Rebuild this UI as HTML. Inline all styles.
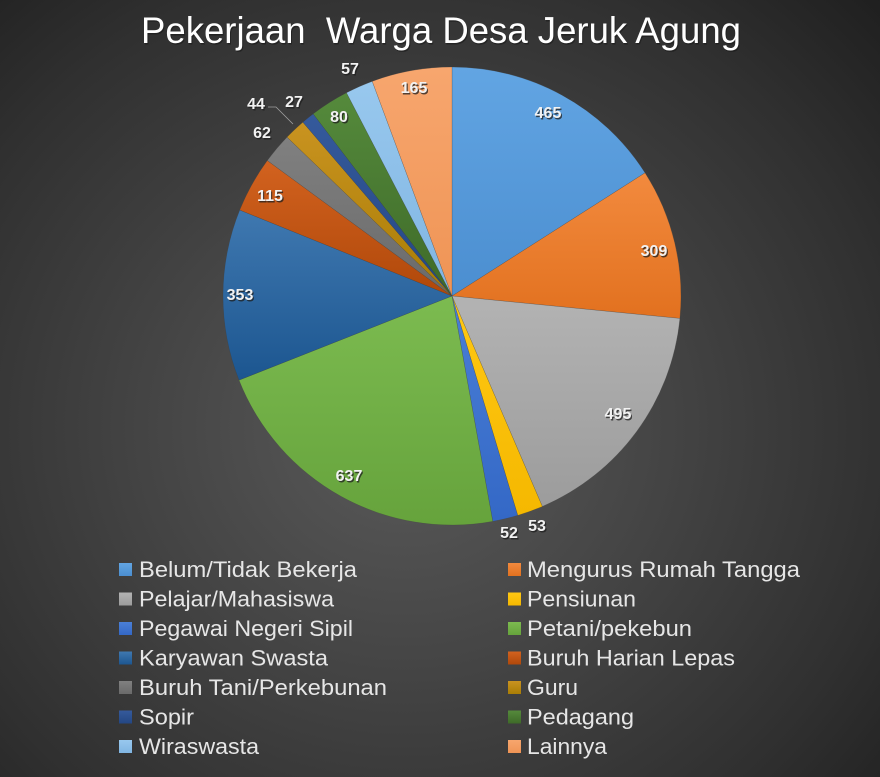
<!DOCTYPE html>
<html><head><meta charset="utf-8"><style>
html,body{margin:0;padding:0;}
body{width:880px;height:777px;overflow:hidden;background:radial-gradient(ellipse 75% 80% at 46% 55%,#5a5a5a 0%,#444 40%,#303030 75%,#1f1f1f 100%);}
svg{display:block;}
.t{font-family:"Liberation Sans",sans-serif;}
.lbl{font-family:"Liberation Sans",sans-serif;font-weight:bold;font-size:16px;text-anchor:middle;}
.lg{font-family:"Liberation Sans",sans-serif;font-size:22px;fill:#e6e6e6;}
</style></head><body>
<svg width="880" height="777" viewBox="0 0 880 777" xmlns="http://www.w3.org/2000/svg">
<defs>
<linearGradient id="g1" x1="0" y1="0" x2="0" y2="1"><stop offset="0" stop-color="#62a5e3"/><stop offset="1" stop-color="#4b8ed0"/></linearGradient>
<linearGradient id="g2" x1="0" y1="0" x2="0" y2="1"><stop offset="0" stop-color="#f28a3e"/><stop offset="1" stop-color="#e2711f"/></linearGradient>
<linearGradient id="g3" x1="0" y1="0" x2="0" y2="1"><stop offset="0" stop-color="#b3b3b3"/><stop offset="1" stop-color="#9c9c9c"/></linearGradient>
<linearGradient id="g4" x1="0" y1="0" x2="0" y2="1"><stop offset="0" stop-color="#ffc814"/><stop offset="1" stop-color="#f5b800"/></linearGradient>
<linearGradient id="g5" x1="0" y1="0" x2="0" y2="1"><stop offset="0" stop-color="#4a7fd6"/><stop offset="1" stop-color="#3468c6"/></linearGradient>
<linearGradient id="g6" x1="0" y1="0" x2="0" y2="1"><stop offset="0" stop-color="#7cbb50"/><stop offset="1" stop-color="#66a33c"/></linearGradient>
<linearGradient id="g7" x1="0" y1="0" x2="0" y2="1"><stop offset="0" stop-color="#3f78b0"/><stop offset="1" stop-color="#1c5690"/></linearGradient>
<linearGradient id="g8" x1="0" y1="0" x2="0" y2="1"><stop offset="0" stop-color="#d2621f"/><stop offset="1" stop-color="#b0480a"/></linearGradient>
<linearGradient id="g9" x1="0" y1="0" x2="0" y2="1"><stop offset="0" stop-color="#808080"/><stop offset="1" stop-color="#6a6a6a"/></linearGradient>
<linearGradient id="g10" x1="0" y1="0" x2="0" y2="1"><stop offset="0" stop-color="#c99320"/><stop offset="1" stop-color="#a97d05"/></linearGradient>
<linearGradient id="g11" x1="0" y1="0" x2="0" y2="1"><stop offset="0" stop-color="#355a9c"/><stop offset="1" stop-color="#244783"/></linearGradient>
<linearGradient id="g12" x1="0" y1="0" x2="0" y2="1"><stop offset="0" stop-color="#558a3c"/><stop offset="1" stop-color="#3e6a28"/></linearGradient>
<linearGradient id="g13" x1="0" y1="0" x2="0" y2="1"><stop offset="0" stop-color="#98c8ee"/><stop offset="1" stop-color="#80b5e2"/></linearGradient>
<linearGradient id="g14" x1="0" y1="0" x2="0" y2="1"><stop offset="0" stop-color="#f7a66e"/><stop offset="1" stop-color="#ef9455"/></linearGradient>
</defs>

<!-- Title -->
<text class="t" x="141" y="43" font-size="37" fill="#1a1a1a" textLength="600" lengthAdjust="spacingAndGlyphs" transform="translate(1,1.5)" opacity="0.6" xml:space="preserve">Pekerjaan  Warga Desa Jeruk Agung</text>
<text class="t" x="141" y="43" font-size="37" fill="#ffffff" textLength="600" lengthAdjust="spacingAndGlyphs" xml:space="preserve">Pekerjaan  Warga Desa Jeruk Agung</text>

<!-- Pie -->
<g stroke="#3a3a3a" stroke-width="0.4" stroke-opacity="0.5">
<path fill="url(#g1)" d="M452,296 L452,67 A229,229 0 0 1 645.05,172.82 Z"/>
<path fill="url(#g2)" d="M452,296 L645.05,172.82 A229,229 0 0 1 679.90,318.43 Z"/>
<path fill="url(#g3)" d="M452,296 L679.90,318.43 A229,229 0 0 1 542.33,506.44 Z"/>
<path fill="url(#g4)" d="M452,296 L542.33,506.44 A229,229 0 0 1 517.73,515.36 Z"/>
<path fill="url(#g5)" d="M452,296 L517.73,515.36 A229,229 0 0 1 492.75,521.35 Z"/>
<path fill="url(#g6)" d="M452,296 L492.75,521.35 A229,229 0 0 1 239.03,380.16 Z"/>
<path fill="url(#g7)" d="M452,296 L239.03,380.16 A229,229 0 0 1 239.75,210.04 Z"/>
<path fill="url(#g8)" d="M452,296 L239.75,210.04 A229,229 0 0 1 267.33,160.54 Z"/>
<path fill="url(#g9)" d="M452,296 L267.33,160.54 A229,229 0 0 1 287.05,137.15 Z"/>
<path fill="url(#g10)" d="M452,296 L287.05,137.15 A229,229 0 0 1 302.84,122.22 Z"/>
<path fill="url(#g11)" d="M452,296 L302.84,122.22 A229,229 0 0 1 313.19,113.86 Z"/>
<path fill="url(#g12)" d="M452,296 L313.19,113.86 A229,229 0 0 1 346.50,92.74 Z"/>
<path fill="url(#g13)" d="M452,296 L346.50,92.74 A229,229 0 0 1 372.25,81.33 Z"/>
<path fill="url(#g14)" d="M452,296 L372.25,81.33 A229,229 0 0 1 452,67 Z"/>
</g>

<!-- leader line for 44 -->
<polyline points="268,107 276,107 293,124" fill="none" stroke="#a0a0a0" stroke-width="0.8"/>

<!-- Data labels (shadow) -->
<g class="lbl" fill="#1e1e1e" opacity="0.75" transform="translate(1.2,1.5)">
<text x="548" y="118">465</text>
<text x="654" y="256">309</text>
<text x="618" y="419">495</text>
<text x="537" y="531">53</text>
<text x="509" y="538">52</text>
<text x="349" y="481">637</text>
<text x="240" y="300">353</text>
<text x="270" y="201">115</text>
<text x="262" y="138">62</text>
<text x="256" y="109">44</text>
<text x="294" y="107">27</text>
<text x="339" y="122">80</text>
<text x="350" y="74">57</text>
<text x="414" y="93">165</text>
</g>
<g class="lbl" fill="#f2f2f2">
<text x="548" y="118">465</text>
<text x="654" y="256">309</text>
<text x="618" y="419">495</text>
<text x="537" y="531">53</text>
<text x="509" y="538">52</text>
<text x="349" y="481">637</text>
<text x="240" y="300">353</text>
<text x="270" y="201">115</text>
<text x="262" y="138">62</text>
<text x="256" y="109">44</text>
<text x="294" y="107">27</text>
<text x="339" y="122">80</text>
<text x="350" y="74">57</text>
<text x="414" y="93">165</text>
</g>

<!-- Legend squares -->
<rect x="119" y="563" width="13" height="13" fill="url(#g1)"/>
<rect x="119" y="592.5" width="13" height="13" fill="url(#g3)"/>
<rect x="119" y="622" width="13" height="13" fill="url(#g5)"/>
<rect x="119" y="651.5" width="13" height="13" fill="url(#g7)"/>
<rect x="119" y="681" width="13" height="13" fill="url(#g9)"/>
<rect x="119" y="710.5" width="13" height="13" fill="url(#g11)"/>
<rect x="119" y="740" width="13" height="13" fill="url(#g13)"/>

<rect x="508" y="563" width="13" height="13" fill="url(#g2)"/>
<rect x="508" y="592.5" width="13" height="13" fill="url(#g4)"/>
<rect x="508" y="622" width="13" height="13" fill="url(#g6)"/>
<rect x="508" y="651.5" width="13" height="13" fill="url(#g8)"/>
<rect x="508" y="681" width="13" height="13" fill="url(#g10)"/>
<rect x="508" y="710.5" width="13" height="13" fill="url(#g12)"/>
<rect x="508" y="740" width="13" height="13" fill="url(#g14)"/>

<!-- Legend text -->
<g class="lg">
<text x="139" y="577" textLength="218" lengthAdjust="spacingAndGlyphs">Belum/Tidak Bekerja</text>
<text x="139" y="606.5" textLength="195" lengthAdjust="spacingAndGlyphs">Pelajar/Mahasiswa</text>
<text x="139" y="636" textLength="214" lengthAdjust="spacingAndGlyphs">Pegawai Negeri Sipil</text>
<text x="139" y="665.5" textLength="189" lengthAdjust="spacingAndGlyphs">Karyawan Swasta</text>
<text x="139" y="695" textLength="248" lengthAdjust="spacingAndGlyphs">Buruh Tani/Perkebunan</text>
<text x="139" y="724.5" textLength="55" lengthAdjust="spacingAndGlyphs">Sopir</text>
<text x="139" y="754" textLength="120" lengthAdjust="spacingAndGlyphs">Wiraswasta</text>

<text x="527" y="577" textLength="273" lengthAdjust="spacingAndGlyphs">Mengurus Rumah Tangga</text>
<text x="527" y="606.5" textLength="109" lengthAdjust="spacingAndGlyphs">Pensiunan</text>
<text x="527" y="636" textLength="165" lengthAdjust="spacingAndGlyphs">Petani/pekebun</text>
<text x="527" y="665.5" textLength="208" lengthAdjust="spacingAndGlyphs">Buruh Harian Lepas</text>
<text x="527" y="695" textLength="51" lengthAdjust="spacingAndGlyphs">Guru</text>
<text x="527" y="724.5" textLength="107" lengthAdjust="spacingAndGlyphs">Pedagang</text>
<text x="527" y="754" textLength="80" lengthAdjust="spacingAndGlyphs">Lainnya</text>
</g>
</svg>
</body></html>
